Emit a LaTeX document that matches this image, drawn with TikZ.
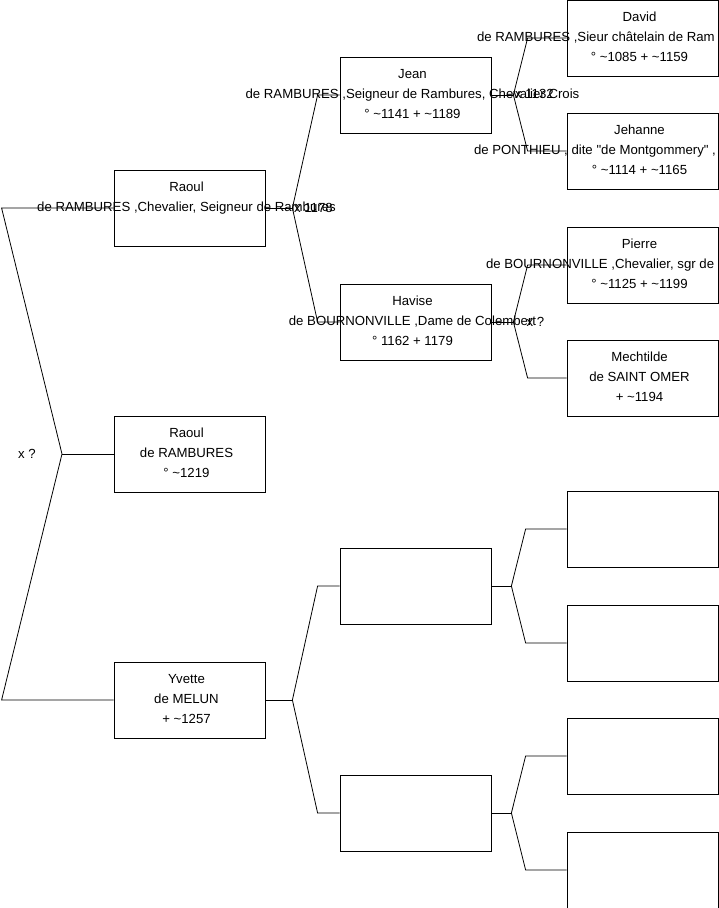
\documentclass[tikz,border=0pt]{standalone}
\usepackage{fontspec}
\setmainfont{Liberation Sans}
\usetikzlibrary{positioning}
\newcommand{\vers}{\textasciitilde}

\begin{document}
\begin{tikzpicture}[x=1pt,y=-1pt,
  box/.style={draw,line width=0.8pt,minimum width=151pt,minimum height=76pt,inner sep=0pt},
  who/.style={anchor=north,align=center,inner sep=0pt,font=\fontsize{13.2}{20}\selectfont},
  wed/.style={inner sep=0pt,font=\fontsize{13.2}{20}\selectfont},
  link/.style={line width=0.8pt}]
  \useasboundingbox (0,0) rectangle (719,908);
  \clip (0,0) rectangle (719,908);
  \node[box] (s2) at (189.5,208) {};
  \node[box] (s1) at (189.5,454) {};
  \node[box] (s3) at (189.5,700) {};
  \node[box] (s4) at (415.5,95) {};
  \node[box] (s5) at (415.5,322) {};
  \node[box] (s6) at (415.5,586) {};
  \node[box] (s7) at (415.5,813) {};
  \node[box] (s8) at (642.5,38) {};
  \node[box] (s9) at (642.5,151) {};
  \node[box] (s10) at (642.5,265) {};
  \node[box] (s11) at (642.5,378) {};
  \node[box] (s12) at (642.5,529) {};
  \node[box] (s13) at (642.5,643) {};
  \node[box] (s14) at (642.5,756) {};
  \node[box] (s15) at (642.5,870) {};
  \node[who] (t2) at ([xshift=-3,yshift=-12.5]s2.north) {Raoul\\de RAMBURES ,Chevalier, Seigneur de Rambures};
  \node[who] (t1) at ([xshift=-3,yshift=-12.5]s1.north) {Raoul\\de RAMBURES\\° \vers1219};
  \node[who] (t3) at ([xshift=-3,yshift=-12.5]s3.north) {Yvette\\de MELUN\\+ \vers1257};
  \node[who] (t4) at ([xshift=-3,yshift=-12.5]s4.north) {Jean\\de RAMBURES ,Seigneur de Rambures, Chevalier Crois\\° \vers1141 + \vers1189};
  \node[who] (t5) at ([xshift=-3,yshift=-12.5]s5.north) {Havise\\de BOURNONVILLE ,Dame de Colembert\\° 1162 + 1179};
  \node[who] (t8) at ([xshift=-3,yshift=-12.5]s8.north) {David\\\makebox[325pt][l]{de RAMBURES ,Sieur châtelain de Ram}\\° \vers1085 + \vers1159};
  \node[who] (t9) at ([xshift=-3,yshift=-12.5]s9.north) {Jehanne\\\makebox[331pt][l]{de PONTHIEU , dite \textquotedbl de Montgommery\textquotedbl\ ,}\\° \vers1114 + \vers1165};
  \node[who] (t10) at ([xshift=-3,yshift=-12.5]s10.north) {Pierre\\\makebox[307pt][l]{de BOURNONVILLE ,Chevalier, sgr de}\\° \vers1125 + \vers1199};
  \node[who] (t11) at ([xshift=-3,yshift=-12.5]s11.north) {Mechtilde\\de SAINT OMER\\+ \vers1194};
  \coordinate (m1) at (62,454);
  \draw[link] (s2.west) -- ++(-112,0) -- (m1) -- ([xshift=-112]s3.west) -- (s3.west);
  \draw[link] (m1) -- (s1.west);
  \node[wed] (x1) at ([xshift=-35]m1) {x ?};
  \draw[link] (s2.east) -- ++(27,0) coordinate (m2);
  \draw[link] (s4.west) -- ++(-22,0) -- (m2) -- ([xshift=-22]s5.west) -- (s5.west);
  \node[wed] (x2) at ([xshift=21]m2) {x 1178};
  \draw[link] (s3.east) -- ++(27,0) coordinate (m3);
  \draw[link] (s6.west) -- ++(-22,0) -- (m3) -- ([xshift=-22]s7.west) -- (s7.west);
  \draw[link] (s4.east) -- ++(22,0) coordinate (m4);
  \draw[link] (s8.west) -- ++(-39,0) -- (m4) -- ([xshift=-39]s9.west) -- (s9.west);
  \node[wed] (x4) at ([xshift=21,yshift=1]m4) {x 1132};
  \draw[link] (s5.east) -- ++(22,0) coordinate (m5);
  \draw[link] (s10.west) -- ++(-39,0) -- (m5) -- ([xshift=-39]s11.west) -- (s11.west);
  \node[wed] (x5) at ([xshift=22]m5) {x ?};
  \draw[link] (s6.east) -- ++(20,0) coordinate (m6);
  \draw[link] (s12.west) -- ++(-41,0) -- (m6) -- ([xshift=-41]s13.west) -- (s13.west);
  \draw[link] (s7.east) -- ++(20,0) coordinate (m7);
  \draw[link] (s14.west) -- ++(-41,0) -- (m7) -- ([xshift=-41]s15.west) -- (s15.west);
\end{tikzpicture}
\end{document}
